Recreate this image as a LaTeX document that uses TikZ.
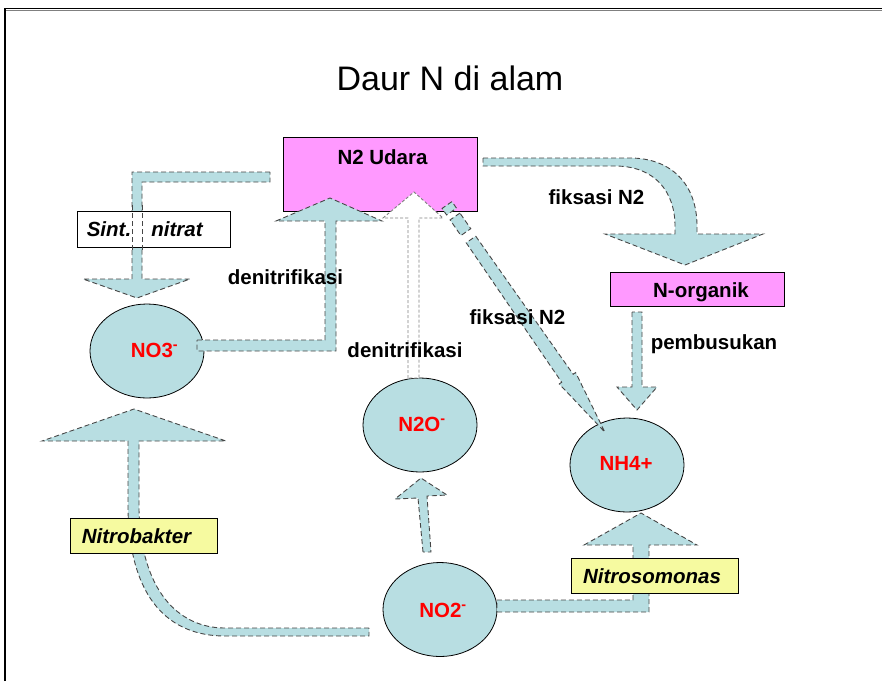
\documentclass[tikz,border=0pt]{standalone}
\usepackage{fontspec}
\setmainfont{Liberation Sans}
\usetikzlibrary{shapes.geometric}

\definecolor{cyanfill}{RGB}{184,222,226}
\definecolor{pinkfill}{RGB}{255,153,255}
\definecolor{yellowfill}{RGB}{246,250,160}
\definecolor{edgegray}{RGB}{70,70,70}

\tikzset{
  flow/.style={fill=cyanfill, draw=edgegray, line width=0.9pt, dash pattern=on 5pt off 3pt, line join=miter},
  flowedge/.style={draw=edgegray, line width=0.9pt, dash pattern=on 5pt off 3pt},
  ghost/.style={fill=white, draw=gray, line width=0.9pt, dash pattern=on 3pt off 2pt},
  pool/.style={ellipse, fill=cyanfill, draw=black, line width=0.8pt,
    minimum width=114pt, minimum height=94pt, inner sep=0pt},
  panel/.style={rectangle, draw=black, line width=1pt, inner sep=0pt},
  lbl/.style={font=\fontsize{20.5}{24}\selectfont\bfseries, inner sep=0pt, anchor=base},
  ion/.style={lbl, text=red},
  tag/.style={font=\fontsize{20.5}{24}\selectfont\bfseries\itshape, inner sep=0pt, anchor=base},
}

\begin{document}
\begin{tikzpicture}[x=1pt, y=-1pt]
\useasboundingbox (0,0) rectangle (882,681);

% frame of the slide
\draw[gray, line width=1pt] (6,10.2) -- (882,10.2);
\draw[black, line width=1.3pt] (5,681) -- (5,8.5) -- (882,8.5);

% title
\node[font=\fontsize{34}{40}\selectfont, inner sep=0pt, anchor=base] (title) at (450,90) {Daur N di alam};

% pools of nitrogen
\node[panel, fill=pinkfill, minimum width=194pt, minimum height=74pt] (n2) at (380,174) {};
\node[panel, fill=pinkfill, minimum width=174pt, minimum height=34pt] (norg) at (697,289) {};
\node[pool] (no3) at (147,351) {};
\node[pool] (n2o) at (420,425) {};
\node[pool] (nh4) at (627,465) {};
\node[pool] (no2) at (440,609.5) {};

% N2 -> NO3 (nitrate synthesis)
\path[flow] (270,172) -- (132,172) -- (132,279) -- (83,279) -- (137,298) -- (190,279)
  -- (142,279) -- (142,182) -- (270,182) -- cycle;
\node[panel, fill=white, minimum width=153pt, minimum height=36pt] (sint) at (153.5,229) {};
\draw[flowedge] (132,205) -- (132,252);
\draw[flowedge] (142,205) -- (142,252);

% NO3 -> N2 (denitrification)
\path[flow] (197,340) -- (325,340) -- (325,221) -- (276,221) -- (330,198) -- (382,221)
  -- (336,221) -- (336,351) -- (197,351) -- cycle;

% N2O -> N2 (denitrification)
\path[ghost] (408,378) -- (408,218) -- (383,218) -- (414,192) -- (443,218)
  -- (419,218) -- (419,378) -- cycle;

% N2 -> NH4 (fixation, broken arrow)
\begin{scope}[shift={(447,205)}, rotate=-55.2]
  \path[flow] (0,-6) rectangle (8,6);
  \path[flow] (14,-6) rectangle (33,6);
  \path[flow] (42,-5.8) -- (211,-7) -- (211,-10) -- (276.6,0) -- (211,10) -- (211,7)
    -- (42,5.8) -- cycle;
\end{scope}

% N2 -> N-organik (fixation, curved arrow)
\path[flow] (483,158) -- (630,158) .. controls (672,158) and (697,185) .. (697,226)
  -- (697,234) -- (763,234) -- (685,265) -- (605,234) -- (675,234) -- (675,226)
  .. controls (675,192) and (655,166) .. (615,166) -- (483,166) -- cycle;

% N-organik -> NH4 (decay)
\path[flow] (632,312) -- (632,387) -- (617,387) -- (637,410) -- (657,387)
  -- (642,387) -- (642,312) -- cycle;

% NO2 -> NO3 (Nitrobakter)
\path[flow] (369,628) -- (225,628) .. controls (178,628) and (141,590) .. (139,510)
  -- (139,441) -- (226,441) -- (134,409) -- (42,441) -- (128,441) -- (128,510)
  .. controls (130,600) and (170,636) .. (225,636) -- (369,636) -- cycle;
\node[panel, fill=yellowfill, minimum width=147pt, minimum height=35pt] (nbak) at (143.5,535.5) {};

% NO2 -> NH4 (Nitrosomonas)
\path[flow] (497,612) -- (649,612) -- (649,545) -- (697,545) -- (641,513) -- (584,545)
  -- (633,545) -- (633,600) -- (497,600) -- cycle;
\node[panel, fill=yellowfill, minimum width=167pt, minimum height=35pt] (nsom) at (654.5,575.5) {};

% NO2 -> N2O
\path[flow] (423,552) -- (418,498) -- (395,499) -- (421,478) -- (447,495) -- (427,496)
  -- (431,552) -- cycle;

% texts
\node[lbl] (tn2) at (382.5,164) {N2 Udara};
\node[lbl] (tnorg) at (701,297) {N-organik};
\node[tag] (tsint) at (109,236) {Sint.};
\node[tag] (tnitrat) at (177,236) {nitrat};
\node[tag] (tnbak) at (136.5,543) {Nitrobakter};
\node[tag] (tnsom) at (652,583) {Nitrosomonas};
\node[ion] (tno3) at (154.5,357) {NO3\textsuperscript{-}};
\node[ion] (tn2o) at (422,431) {N2O\textsuperscript{-}};
\node[ion] (tnh4) at (626,470) {NH4+};
\node[ion] (tno2) at (443,617) {NO2\textsuperscript{-}};
\node[lbl] (l1) at (285.5,284) {denitrifikasi};
\node[lbl] (l2) at (405,357) {denitrifikasi};
\node[lbl] (l3) at (517.5,324) {fiksasi N2};
\node[lbl] (l4) at (596.5,204) {fiksasi N2};
\node[lbl] (l5) at (714,349) {pembusukan};
\end{tikzpicture}
\end{document}
